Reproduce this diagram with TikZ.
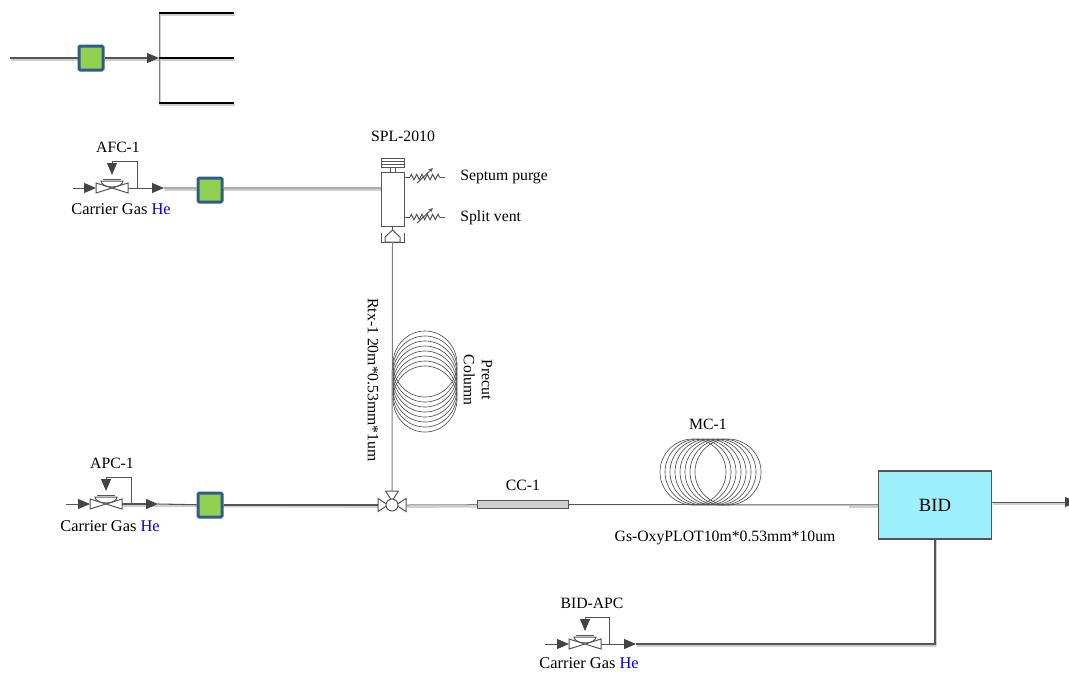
\documentclass[tikz,border=0pt]{standalone}
\usepackage{fontspec}
\usepackage{xcolor}
\usepackage{tikz}
\usetikzlibrary{calc,arrows.meta,positioning,decorations.pathmorphing,backgrounds}
\setmainfont{Liberation Serif}
\definecolor{linegray}{HTML}{555555}
\definecolor{midgray}{HTML}{808080}
\definecolor{palegray}{HTML}{ABABAB}
\definecolor{shadegray}{HTML}{CFCFCF}
\definecolor{tipgray}{HTML}{444444}
\definecolor{filterblue}{HTML}{2F5B8F}
\definecolor{filtergreen}{HTML}{92D050}
\definecolor{bidcyan}{HTML}{9BF0FC}
\definecolor{ccgray}{HTML}{D0D0D0}
\definecolor{heblue}{HTML}{0000E6}
\tikzset{
  lbl/.style={font=\fontsize{11.8}{13.5}\selectfont,inner sep=0pt,align=center},
  gaslbl/.style={font=\fontsize{12.3}{14}\selectfont,inner sep=0pt},
  thin line/.style={draw=linegray,line width=.75pt},
  pipe/.style={thin line,line width=.8pt},
  midpipe/.style={draw=midgray,line width=.75pt},
  palepipe/.style={draw=palegray,line width=1pt},
  shadeline/.style={draw=shadegray,line width=1.6pt},
  tip/.style={-{Triangle[length=9pt,width=7.5pt,color=tipgray]}},
  filter/.style={draw=filterblue,fill=filtergreen,line width=2.25pt,minimum size=18pt,inner sep=0pt,rounded corners=1pt},
  regulator/.pic={
    \draw[thin line,fill=white] (-16,-5)--(16,5)--(16,-5)--(-16,5)--cycle;
    \draw[thin line,fill=white] (-11,-7) arc[start angle=180,end angle=0,x radius=11,y radius=6]--cycle;
    \draw[thin line] (-9,-9)--(9,-9);
    \coordinate (-west) at (-16,0);
    \coordinate (-east) at (16,0);
    \coordinate (-top) at (0,-13);
  },
  threeway/.pic={
    \foreach \ang in {0,90,180}
      \draw[thin line,fill=white,rotate=\ang] (4,0)--(14,-6.5)--(14,6.5)--cycle;
    \draw[thin line,fill=white] (0,0) circle (6);
    \coordinate (-west) at (-14,0);
    \coordinate (-east) at (14,0);
    \coordinate (-north) at (0,-14);
  },
  needle/.pic={
    \draw[thin line] (0,0)--(6,0);
    \draw[thin line,decorate,decoration={zigzag,amplitude=2pt,segment length=4pt}] (6,0)--(36,0);
    \draw[thin line] (36,0)--(41,0);
    \draw[thin line,-{Stealth[length=3.5pt,width=3pt]}] (13,6)--(29,-9);
  },
}
\begin{document}
\begin{tikzpicture}[x=.75pt,y=-.75pt]
\useasboundingbox (0,0) rectangle (1069,672);

\coordinate (topin) at (10,58);
\node[filter] (topfilter) at (91,58) {};
\coordinate (tophub) at (159,58);
\coordinate (topup) at (159,13);
\coordinate (topdown) at (159,103);
\coordinate (topa) at (234,13);
\coordinate (topb) at (234,58);
\coordinate (topc) at (234,103);
\draw[pipe] (topin)--(topfilter);
\draw[pipe,tip] (topfilter)--(tophub);
\draw[midpipe] (topup)--(topdown);
\draw[pipe,draw=black] (topup)--(topa);
\draw[pipe,draw=black] (tophub)--(topb);
\draw[pipe,draw=black] (topdown)--(topc);

\pic (afc) at (112,188) {regulator};
\coordinate (afcin) at (73,188);
\coordinate (afcout) at (164,188);
\coordinate (afcturn) at (137,161);
\coordinate (afccorner) at (112,161);
\coordinate (afcfoot) at (137,188);
\node[filter] (afcfilter) at (210,190) {};
\node[lbl] (afclabel) at (118,147) {AFC-1};
\node[gaslbl] (afcgas) at (121,209) {Carrier Gas \textcolor{heblue}{He}};
\draw[thin line,tip] (afcin)--(afc-west);
\draw[thin line,tip] (afc-east)--(afcout);
\draw[thin line,tip] (afcfoot)--(afcturn)--(afccorner)--(afc-top);
\draw[palepipe] (afcout)--(afcfilter.west|-afcout);

\node[draw=linegray,line width=.75pt,fill=white,minimum width=17.25pt,minimum height=40.5pt,inner sep=0pt] (splbody) at (392.5,199) {};
\node[lbl] (spllabel) at (403,136) {SPL-2010};
\node[lbl,anchor=west] (septumlabel) at (460,177) {Septum purge};
\node[lbl,anchor=west] (splitlabel) at (460,218) {Split vent};
\coordinate (splin) at (splbody.west|-afcout);
\draw[palepipe] (afcfilter.east|-afcout)--(splin);
\draw[thin line] (381,158) rectangle (404,167);
\draw[thin line] (381,161)--(404,161) (381,164)--(404,164);
\draw[thin line] (390.5,167)--(390.5,172) (395,167)--(395,172);
\pic at (404,177) {needle};
\pic at (404,217) {needle};
\draw[thin line] (392.5,226)--(392.5,230);
\draw[thin line] (392.5,230)--(400,237)--(400,242)--(385,242)--(385,237)--cycle;
\draw[thin line] (381,233)--(381,242)--(404,242)--(404,233);
\coordinate (splout) at (392.5,242);

\pic (inj) at (392,505) {threeway};
\draw[midpipe] (splout)--(inj-north);
\foreach \off in {0,5,...,35}
  \draw[draw=linegray,line width=.5pt] (425,364+\off) ellipse [x radius=32,y radius=33];
\node[lbl,rotate=-90] (rtxlabel) at (373,380) {Rtx-1 20m*0.53mm*1um};
\node[lbl,rotate=-90] (precutlabel) at (478,380) {Precut\\Column};

\pic (apc) at (106,504) {regulator};
\coordinate (apcin) at (66,504);
\coordinate (apcout) at (158,504);
\coordinate (apcturn) at (131,477);
\coordinate (apccorner) at (106,477);
\coordinate (apcfoot) at (131,504);
\node[filter] (apcfilter) at (210,505) {};
\node[lbl] (apclabel) at (112,463) {APC-1};
\node[gaslbl] (apcgas) at (110,526) {Carrier Gas \textcolor{heblue}{He}};
\draw[thin line,tip] (apcin)--(apc-west);
\draw[pipe,tip] (apc-east)--(apcout);
\draw[thin line,tip] (apcfoot)--(apcturn)--(apccorner)--(apc-top);
\draw[pipe] (apcout)--(apcfilter);
\draw[pipe] (apcfilter)--(inj-west);

\node[draw=linegray,line width=.75pt,fill=ccgray,minimum width=68pt,minimum height=6.5pt,inner sep=0pt] (cc) at (523,504.5) {};
\node[lbl] (cclabel) at (523,485) {CC-1};
\draw[midpipe] (inj-east)--(cc);

\node[draw=linegray,line width=1pt,fill=bidcyan,minimum width=84.5pt,minimum height=51pt,inner sep=0pt,font=\fontsize{14}{16}\selectfont] (bid) at (935,505) {BID};
\coordinate (bidfeed) at (848,505);
\coordinate (bidfeedend) at (bid.west|-bidfeed);
\draw[thin line] (cc)--(bid);
\foreach \off in {0,5,...,35}
  \draw[draw=linegray,line width=.5pt] (693+\off,472) ellipse [x radius=33,y radius=33];
\node[lbl] (mclabel) at (708,424) {MC-1};
\node[lbl] (gslabel) at (725,538) {Gs-OxyPLOT10m*0.53mm*10um};

\coordinate (bidout) at (1077,502);
\coordinate (bidoutstart) at (bid.east|-bidout);
\draw[thin line,tip] (bidoutstart)--(bidout);

\pic (bidapc) at (585,644) {regulator};
\coordinate (bidin) at (545,644);
\coordinate (bidarrow) at (636,644);
\coordinate (bidturn) at (609,617);
\coordinate (bidcorner) at (585,617);
\coordinate (bidfoot) at (609,644);
\coordinate (bidelbow) at (935,644);
\node[lbl] (bidapclabel) at (592,603) {BID-APC};
\node[gaslbl] (bidgas) at (589,663) {Carrier Gas \textcolor{heblue}{He}};
\draw[thin line,tip] (bidin)--(bidapc-west);
\draw[thin line,tip] (bidapc-east)--(bidarrow);
\draw[thin line,tip] (bidfoot)--(bidturn)--(bidcorner)--(bidapc-top);
\draw[pipe] (bid)--(bidelbow)--(bidarrow);

\begin{scope}[on background layer]
\foreach \from/\to in {topin/tophub,tophub/topb,topup/topa,topdown/topc,topup/topdown,afcout/splin,apc-east/inj-west,inj-east/cc,bidfeed/bidfeedend,bidoutstart/bidout,bid/bidelbow,bidelbow/bidarrow}
  \draw[shadeline] ($(\from)+(1.2,1.8)$)--($(\to)+(1.2,1.8)$);
\end{scope}
\end{tikzpicture}
\end{document}
